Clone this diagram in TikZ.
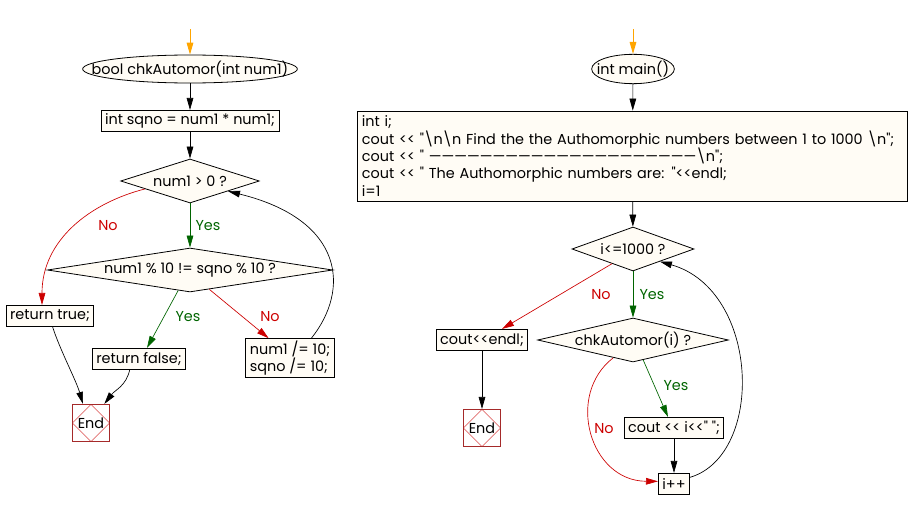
\documentclass[tikz,border=0pt]{standalone}
\usepackage{fontspec}
\setmainfont{Poppins}[Ligatures=TeXOff]
\usetikzlibrary{shapes.geometric, arrows.meta, calc, positioning}

\definecolor{cream}{RGB}{255,252,245}
\definecolor{nored}{RGB}{204,0,0}
\definecolor{yesgreen}{RGB}{0,100,0}
\definecolor{startorange}{RGB}{255,165,0}
\definecolor{endred}{RGB}{165,42,42}
\definecolor{endpink}{RGB}{225,110,110}

\newcommand{\spill}[1]{\makebox[0pt]{#1}}

\begin{document}
\begin{tikzpicture}[
            x=0.75pt, y=-0.75pt, % one unit is one pixel of the picture
            font=\fontsize{10.8}{13.1}\selectfont,
            >={Triangle[length=9pt, width=5pt]},
            terminal/.style={ellipse, draw, fill=cream, line width=0.6pt, inner sep=0pt},
            process/.style={rectangle, draw, fill=cream, line width=0.6pt, inner xsep=3pt, inner ysep=0pt, minimum height=16pt},
            decision/.style={diamond, draw, fill=cream, line width=0.6pt, inner sep=0pt, minimum height=33pt},
            stop/.style={rectangle, draw=endred, line width=0.6pt, minimum size=28pt, inner sep=0pt,
                path picture={\draw[endpink, line width=0.5pt] (path picture bounding box.north) -- (path picture bounding box.east)
                    -- (path picture bounding box.south) -- (path picture bounding box.west) -- cycle;}},
            flow/.style={->, line width=0.5pt},
            yes/.style={flow, draw=yesgreen},
            no/.style={flow, draw=nored},
            startflow/.style={flow, draw=startorange, line width=0.75pt},
            yeslbl/.style={text=yesgreen},
            nolbl/.style={text=nored}
        ]

        \useasboundingbox (0,0) rectangle (910,510);

        % Function chkAutomor
        \coordinate (in1) at (190,29);
        \node[terminal, minimum width=161pt, minimum height=21pt] (f1) at (190,69) {\spill{bool chkAutomor(int num1)}};
        \node[process] (sq) at (190,121) {int sqno = num1 * num1;};
        \node[decision, minimum width=104pt, aspect=3.1] (d1) at (190,181) {num1 > 0 ?};
        \node[decision, minimum width=214pt, aspect=6.3] (d2) at (190,270) {num1 \% 10 != sqno \% 10 ?};
        \node[process] (rtrue) at (50,316) {return true;};
        \node[process] (rfalse) at (139,359) {return false;};
        \node[process, align=left, minimum height=29pt] (upd) at (290,358) {num1 /= 10;\\sqno /= 10;};
        \node[stop] (end1) at (91,423) {End};

        % Function main
        \coordinate (in2) at (633,29);
        \node[terminal, minimum width=62pt, minimum height=22pt] (f2) at (633,69) {\spill{int main()}};
        \node[process, text width=406pt, align=left, minimum height=67.5pt] (init) at (632.5,156) {int i;\\
            cout << "\textbackslash n\textbackslash n Find the the Authomorphic numbers between 1 to 1000 \textbackslash n";\\
            cout << " —————————————————————\textbackslash n";\\
            cout << " The Authomorphic numbers are: "<<endl;\\
            i=1};
        \node[decision, minimum width=91.5pt, aspect=2.8] (d3) at (633,249) {i<=1000 ?};
        \node[process] (outb) at (482,340) {cout<<endl;};
        \node[decision, minimum width=143pt, aspect=4.3] (d4) at (633,340) {chkAutomor(i) ?};
        \node[process] (coutb) at (674,428) {cout << i<<" ";};
        \node[process] (inc) at (674,484) {i++};
        \node[stop] (end2) at (482,428) {End};

        % Labels
        \node[nolbl] (no1) at (108,226) {No};
        \node[yeslbl] (yes1) at (208,226) {Yes};
        \node[yeslbl] (yes2) at (188,317) {Yes};
        \node[nolbl] (no2) at (270,317) {No};
        \node[nolbl] (no3) at (601,295) {No};
        \node[yeslbl] (yes3) at (652,295) {Yes};
        \node[yeslbl] (yes4) at (676,386) {Yes};
        \node[nolbl] (no4) at (604,429) {No};

        % Connections of chkAutomor
        \draw[startflow] (in1) -- (f1.north);
        \draw[flow] (f1) -- (sq);
        \draw[flow] (sq) -- (d1);
        \draw[yes] (d1.south) -- (d2.north);
        \draw[no] (d1.190) .. controls (90,203) and (42,240) .. ([xshift=-6pt]rtrue.north);
        \draw[yes] (d2.240) -- ([xshift=6pt]rfalse.north);
        \draw[no] (d2.315) -- ([xshift=-16pt]upd.north);
        \draw[flow] ([xshift=16pt]upd.north) .. controls (350,290) and (345,220) .. (d1.345);
        \draw[flow] ([xshift=2pt]rtrue.south) .. controls (60,350) and (76,380) .. ([xshift=-6pt]end1.north);
        \draw[flow] ([xshift=-7pt]rfalse.south) .. controls (126,386) and (115,390) .. ([xshift=10pt]end1.north);

        % Connections of main
        \draw[startflow] (in2) -- (f2.north);
        \draw[flow] (f2) -- (init);
        \draw[flow] (init) -- (d3);
        \draw[yes] (d3.south) -- (d4.north);
        \draw[no] (d3.215) -- ([xshift=15pt]outb.north);
        \draw[flow] (outb) -- (end2);
        \draw[yes] (d4.297) -- ([xshift=-4.5pt]coutb.north);
        \draw[no] (d4.222) .. controls (565,395) and (590,481) .. ([yshift=2pt]inc.west);
        \draw[flow] (coutb) -- (inc);
        \draw[flow] ([yshift=5pt]inc.east) .. controls (765,455) and (760,290) .. (d3.335);

    \end{tikzpicture}
\end{document}
